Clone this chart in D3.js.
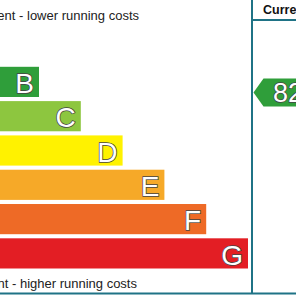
<!DOCTYPE html>
<html>
<head>
<meta charset="utf-8">
<script src="https://cdn.jsdelivr.net/npm/d3@7"></script>
<style>
  html, body { margin: 0; padding: 0; background: #fff; }
  svg { display: block; }
</style>
</head>
<body>
<svg id="chart"></svg>
<script>
// EPC rating bands (A is off the left edge in this crop)
const bands = ["A", "B", "C", "D", "E", "F", "G"];
const bandRank = [1, 2, 3, 4, 5, 6, 7];
const bandColors = ["#0f8a4a", "#2f9e3a", "#8dc63f", "#fff200", "#f6a928", "#ee6a26", "#e31e24"];
const currentScore = 82;
const currentBand = "B";
const topLabel = "Very energy efficient - lower running costs";
const bottomLabel = "Not energy efficient - higher running costs";
const columnHeader = "Current";

const width = 296, height = 296;
const frameColor = "#1f7386";
const font = "Liberation Sans, Arial, sans-serif";

const svg = d3.select("#chart")
  .attr("width", width)
  .attr("height", height)
  .attr("viewBox", [0, 0, width, height]);

// scales
const y = d3.scaleBand()
  .domain(bands)
  .range([32.5, 268.5])
  .paddingInner(0.12)
  .paddingOuter(0);

const x = d3.scaleLinear()
  .domain([2, 7])
  .range([39, 248]);

const columnX = 252;

// bars
svg.append("g")
  .selectAll("rect")
  .data(bands)
  .join("rect")
  .attr("x", -60)
  .attr("y", d => y(d))
  .attr("width", (d, i) => x(bandRank[i]) + 60)
  .attr("height", y.bandwidth())
  .attr("fill", (d, i) => bandColors[i]);

// band letters (only those whose bar reaches into the view)
svg.append("g")
  .attr("font-family", font)
  .attr("font-size", 28)
  .attr("text-anchor", "end")
  .attr("fill", "#fff")
  .attr("stroke", "#444")
  .attr("stroke-width", 1.5)
  .attr("paint-order", "stroke")
  .selectAll("text")
  .data(bands.map((d, i) => ({band: d, rank: bandRank[i]})).filter(d => x(d.rank) > 20))
  .join("text")
  .attr("x", d => x(d.rank) - 5)
  .attr("y", d => y(d.band) + y.bandwidth() - 4)
  .text(d => d.band);

// top / bottom captions
svg.append("text")
  .attr("x", 139)
  .attr("y", 20)
  .attr("text-anchor", "end")
  .attr("font-family", font)
  .attr("font-size", 13)
  .attr("fill", "#222")
  .text(topLabel);

svg.append("text")
  .attr("x", 137)
  .attr("y", 288)
  .attr("text-anchor", "end")
  .attr("font-family", font)
  .attr("font-size", 13)
  .attr("fill", "#222")
  .text(bottomLabel);

// frame lines
svg.append("line")
  .attr("x1", columnX).attr("x2", columnX)
  .attr("y1", 0).attr("y2", 294)
  .attr("stroke", frameColor).attr("stroke-width", 2);

svg.append("line")
  .attr("x1", columnX).attr("x2", width)
  .attr("y1", 20).attr("y2", 20)
  .attr("stroke", frameColor).attr("stroke-width", 2);

svg.append("line")
  .attr("x1", 0).attr("x2", width)
  .attr("y1", 293.5).attr("y2", 293.5)
  .attr("stroke", frameColor).attr("stroke-width", 2);

svg.append("text")
  .attr("x", 263)
  .attr("y", 14)
  .attr("font-family", font)
  .attr("font-size", 12.5)
  .attr("font-weight", "bold")
  .attr("fill", "#111")
  .text(columnHeader);

// current rating arrow
const bi = bands.indexOf(currentBand);
const cy = y(currentBand) + y.step() * 0.75;
const ah = y.bandwidth() - 2;
const tipX = columnX + 1.5;
const arrow = d3.path();
arrow.moveTo(tipX, cy);
arrow.lineTo(tipX + 10, cy - ah / 2);
arrow.lineTo(width + 10, cy - ah / 2);
arrow.lineTo(width + 10, cy + ah / 2);
arrow.lineTo(tipX + 10, cy + ah / 2);
arrow.closePath();

svg.append("path")
  .attr("d", arrow.toString())
  .attr("fill", bandColors[bi]);

svg.append("text")
  .attr("x", 273)
  .attr("y", cy + 9.5)
  .attr("font-family", font)
  .attr("font-size", 27)
  .attr("fill", "#fff")
  .attr("stroke", "#444")
  .attr("stroke-width", 1.4)
  .attr("paint-order", "stroke")
  .text(currentScore);
</script>
</body>
</html>
